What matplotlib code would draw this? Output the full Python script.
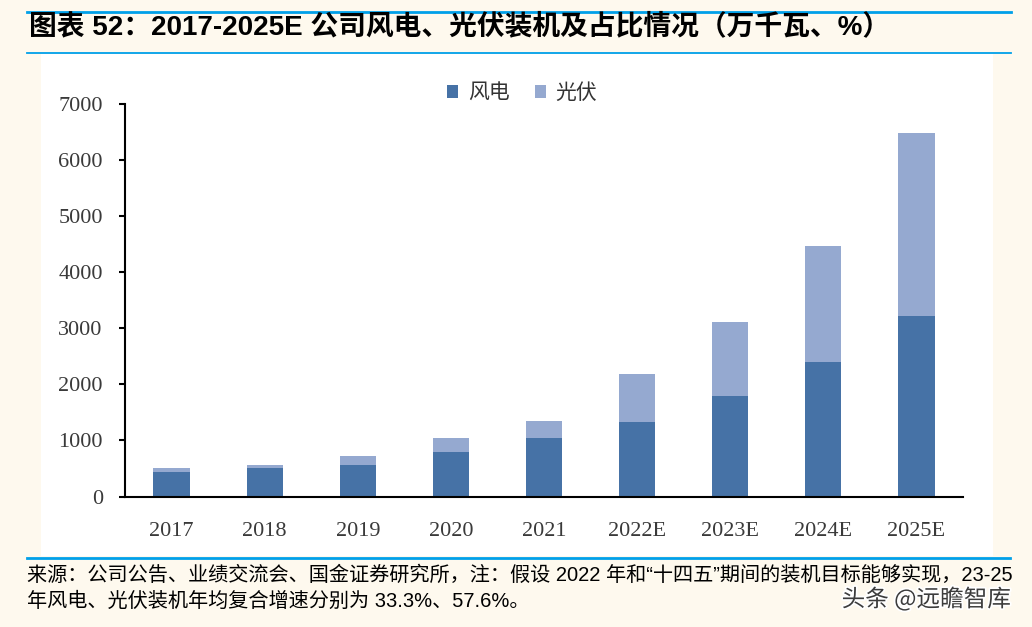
import matplotlib
matplotlib.use("Agg")
import matplotlib.pyplot as plt
from matplotlib.patches import Rectangle
from matplotlib.lines import Line2D
import matplotlib.patheffects as pe
import numpy as np

categories = ["2017", "2018", "2019", "2020", "2021", "2022E", "2023E", "2024E", "2025E"]
wind = [430, 500, 570, 785, 1035, 1335, 1800, 2400, 3225]
solar = [70, 70, 145, 250, 320, 855, 1320, 2075, 3250]
series_names = ["风电", "光伏"]
yticks = [0, 1000, 2000, 3000, 4000, 5000, 6000, 7000]

title = "图表 52：2017-2025E 公司风电、光伏装机及占比情况（万千瓦、%）"
source1 = "来源：公司公告、业绩交流会、国金证券研究所，注：假设 2022 年和“十四五”期间的装机目标能够实现，23-25"
source2 = "年风电、光伏装机年均复合增速分别为 33.3%、57.6%。"
watermark = "头条 @远瞻智库"

WIND_C = "#4672A6"
SOLAR_C = "#95A9D0"
LINE_C = "#00A0E9"
BG = "#FEF9EE"

W, H = 1032, 627
fig = plt.figure(figsize=(W / 100, H / 100), dpi=100, facecolor=BG)

# white panel
fig.patches.append(Rectangle((41 / W, 1 - 556 / H), 952 / W, 502 / H,
                             transform=fig.transFigure, facecolor="white",
                             edgecolor="none", zorder=-5))
# blue rules
for y, x0, x1, lw in [(12, 27, 1011, 2.0), (53, 27, 1011, 1.3), (558, 27, 1010, 2.0)]:
    fig.add_artist(Line2D([x0 / W, x1 / W], [1 - y / H, 1 - y / H],
                          transform=fig.transFigure, color=LINE_C, lw=lw))

ax = fig.add_axes([125 / W, 1 - 496.5 / H, (963 - 125) / W, (496.5 - 104) / H])
ax.set_facecolor("none")

x = np.arange(len(categories))
bw = 0.39
b1 = ax.bar(x, wind, width=bw, color=WIND_C, label=series_names[0], zorder=2)
b2 = ax.bar(x, solar, width=bw, bottom=wind, color=SOLAR_C, label=series_names[1], zorder=2)

ax.set_xlim(-0.5, len(categories) - 0.5)
ax.set_ylim(0, 7000)
ax.set_yticks(yticks)
ax.set_yticklabels([str(v) for v in yticks])
ax.set_xticks(x)
ax.set_xticklabels(categories)

for s in ["top", "right"]:
    ax.spines[s].set_visible(False)
for s in ["left", "bottom"]:
    ax.spines[s].set_linewidth(1.5)
    ax.spines[s].set_color("black")

ax.tick_params(axis="y", direction="out", length=4.5, width=1.5, pad=11.5,
               labelsize=16, labelcolor="#3a3a3a")
ax.tick_params(axis="x", length=0, pad=18, labelsize=16, labelcolor="#3a3a3a")
for lab in ax.get_yticklabels() + ax.get_xticklabels():
    lab.set_fontfamily("Liberation Serif")

leg = fig.legend(handles=[b1, b2], labels=series_names, loc="center",
                 bbox_to_anchor=(522 / W, 1 - 93 / H), ncol=2, frameon=False,
                 prop={"family": ["Noto Sans CJK SC"], "size": 15},
                 handlelength=0.55, handleheight=0.55, handletextpad=0.45,
                 columnspacing=1.2)
for t in leg.get_texts():
    t.set_color("#333333")

fig.text(29 / W, 1 - 27 / H, title, ha="left", va="center",
         family=["Liberation Sans", "Noto Sans CJK SC"], fontsize=20,
         fontweight="bold", color="black")

fig.text(27 / W, 1 - 575 / H, source1, ha="left", va="center",
         family=["Liberation Sans", "Noto Sans CJK SC"], fontsize=14.5, color="black")
fig.text(27 / W, 1 - 601 / H, source2, ha="left", va="center",
         family=["Liberation Sans", "Noto Sans CJK SC"], fontsize=14.5, color="black")

fig.text(1011 / W, 1 - 599 / H, watermark, ha="right", va="center",
         family=["Noto Sans CJK SC", "DejaVu Sans"], fontsize=17, color="#3c3c3c",
         path_effects=[pe.withStroke(linewidth=2.5, foreground="white")])

fig.savefig("out.png", dpi=100, facecolor=BG)
